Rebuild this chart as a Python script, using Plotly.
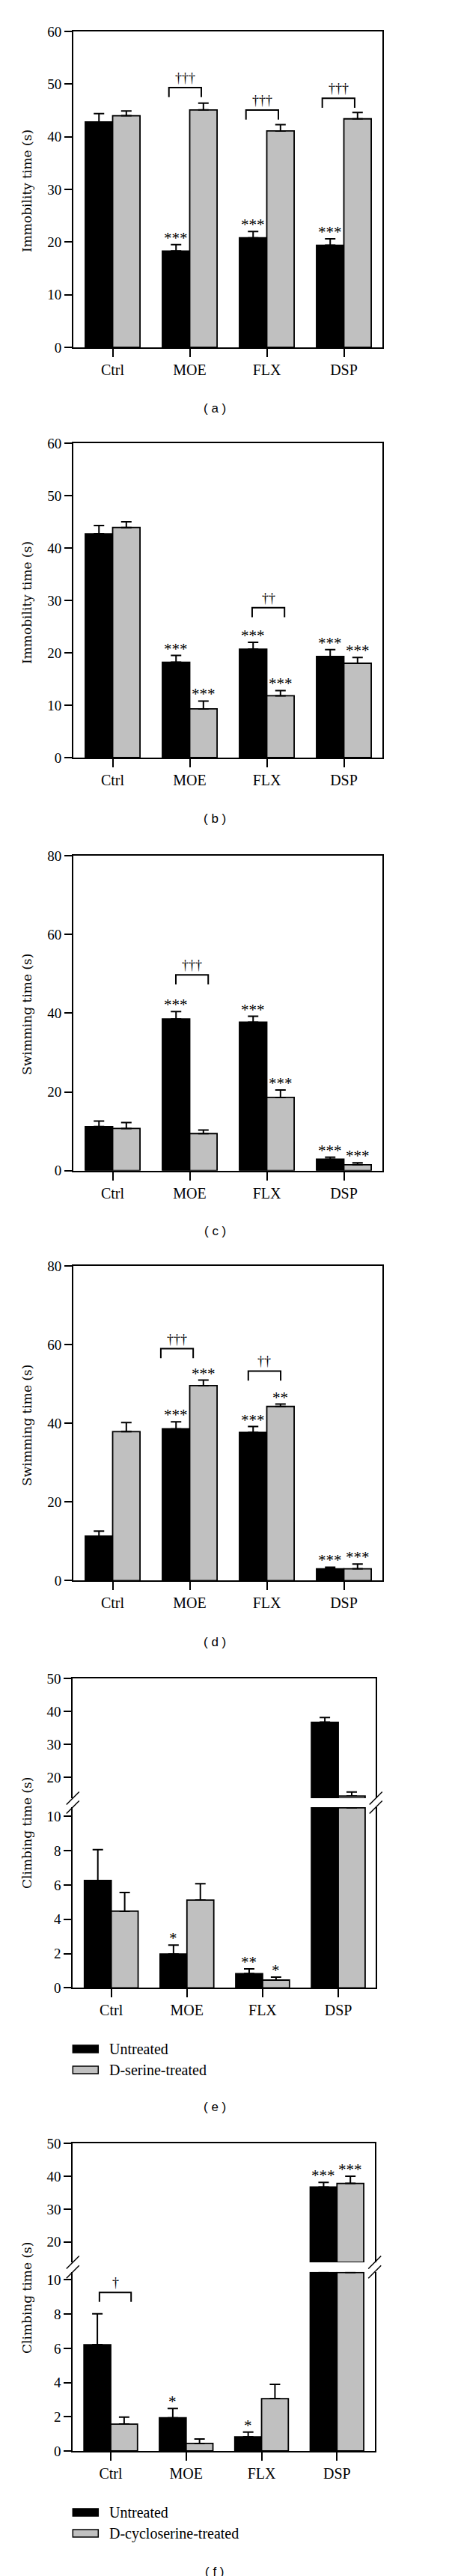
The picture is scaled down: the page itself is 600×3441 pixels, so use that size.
import plotly.graph_objects as go

W, H = 600, 3441

categories = ["Ctrl", "MOE", "FLX", "DSP"]

# (a) Immobility time, D-serine
a_untreated = [42.8, 18.3, 20.8, 19.4]
a_untreated_sem = [1.6, 1.2, 1.2, 1.2]
a_treated = [44.0, 45.1, 41.1, 43.4]
a_treated_sem = [0.9, 1.3, 1.2, 1.2]
a_untreated_sig = ["", "***", "***", "***"]
a_treated_sig = ["", "", "", ""]

# (b) Immobility time, D-cycloserine
b_untreated = [42.7, 18.2, 20.7, 19.3]
b_untreated_sem = [1.6, 1.3, 1.3, 1.3]
b_treated = [43.9, 9.3, 11.8, 18.0]
b_treated_sem = [1.1, 1.5, 1.0, 1.1]
b_untreated_sig = ["", "***", "***", "***"]
b_treated_sig = ["", "***", "***", "***"]

# (c) Swimming time, D-serine
c_untreated = [11.2, 38.5, 37.7, 2.9]
c_untreated_sem = [1.4, 1.9, 1.5, 0.5]
c_treated = [10.7, 9.4, 18.6, 1.5]
c_treated_sem = [1.5, 0.9, 1.9, 0.5]
c_untreated_sig = ["", "***", "***", "***"]
c_treated_sig = ["", "", "***", "***"]

# (d) Swimming time, D-cycloserine
d_untreated = [11.3, 38.6, 37.7, 3.0]
d_untreated_sem = [1.3, 1.8, 1.5, 0.4]
d_treated = [37.9, 49.6, 44.3, 3.0]
d_treated_sem = [2.3, 1.4, 0.6, 1.2]
d_untreated_sig = ["", "***", "***", "***"]
d_treated_sig = ["", "***", "**", "***"]

# (e) Climbing time, D-serine
e_untreated = [6.26, 1.97, 0.83, 36.7]
e_untreated_sem = [1.8, 0.52, 0.28, 1.4]
e_treated = [4.47, 5.12, 0.45, 14.3]
e_treated_sem = [1.09, 0.95, 0.18, 1.2]
e_untreated_sig = ["", "*", "**", ""]
e_treated_sig = ["", "", "*", ""]

# (f) Climbing time, D-cycloserine
f_untreated = [6.21, 1.94, 0.83, 36.7]
f_untreated_sem = [1.81, 0.54, 0.28, 1.4]
f_treated = [1.57, 0.44, 3.06, 37.8]
f_treated_sem = [0.41, 0.26, 0.83, 2.2]
f_untreated_sig = ["", "*", "*", "***"]
f_treated_sig = ["", "", "", "***"]

legend_names = ["Untreated", "D-serine-treated", "D-cycloserine-treated"]

SERIF = "Liberation Serif"
TITLE_FONT = "DejaVu Serif"
SANS = "Liberation Sans"
BLACK = "#000000"
GRAY = "#c0c0c0"
OFF = 0.1775
BW = 0.355

fig = go.Figure()
layout = dict(width=W, height=H, margin=dict(l=0, r=0, t=0, b=0),
              paper_bgcolor="white", plot_bgcolor="rgba(0,0,0,0)",
              showlegend=False, barmode="overlay")
annotations, shapes = [], []


def py(p):
    return 1 - p / H


def pxx(p):
    return p / W


def xaxis_cfg(dom, rng, labels=True, side="bottom", mirror=False, ticks=True):
    return dict(domain=[pxx(dom[0]), pxx(dom[1])], range=rng, showgrid=False, zeroline=False,
                showline=True, linecolor=BLACK, linewidth=2, mirror=mirror, side=side,
                tickmode="array", tickvals=[0, 1, 2, 3], ticktext=categories,
                ticks="outside" if ticks else "", ticklen=11, tickwidth=2, tickcolor=BLACK,
                showticklabels=labels, tickfont=dict(family=SERIF, size=20, color=BLACK),
                fixedrange=True, automargin=False)


def yaxis_cfg(dom, rng, tickvals):
    return dict(domain=[py(dom[1]), py(dom[0])], range=rng, showgrid=False, zeroline=False,
                showline=True, linecolor=BLACK, linewidth=2, mirror=True,
                tickmode="array", tickvals=tickvals, ticktext=[str(t) for t in tickvals],
                ticks="outside", ticklen=10, tickwidth=2, tickcolor=BLACK,
                tickfont=dict(family=SERIF, size=19, color=BLACK),
                fixedrange=True, automargin=False)


def add_bars(n, vals, sems, color, off, base=None):
    xs = "x" if n == 1 else f"x{n}"
    ys = "y" if n == 1 else f"y{n}"
    fig.add_trace(go.Bar(
        x=[i + off for i in range(4)], y=vals, width=BW, base=base,
        marker=dict(color=color, line=dict(color=BLACK, width=1.8)),
        error_y=dict(type="data", array=sems, arrayminus=[0] * 4, symmetric=False,
                     color=BLACK, thickness=2, width=7),
        xaxis=xs, yaxis=ys, hoverinfo="skip"))


def ref(n):
    return ("x" if n == 1 else f"x{n}"), ("y" if n == 1 else f"y{n}")


def add_sig(n, i, off, y, text):
    if not text:
        return
    xr, yr = ref(n)
    annotations.append(dict(x=i + off, y=y, xref=xr, yref=yr, text=text, showarrow=False,
                            xanchor="center", yanchor="middle", yshift=9,
                            font=dict(family=SERIF, size=21, color=BLACK)))


def add_bracket(n, i, x0, x1, ytop, ppu, text):
    xr, yr = ref(n)
    leg = 12.7 / ppu
    shapes.append(dict(type="path", xref=xr, yref=yr,
                       path=f"M {i + x0},{ytop - leg} L {i + x0},{ytop} L {i + x1},{ytop} L {i + x1},{ytop - leg}",
                       line=dict(color=BLACK, width=2)))
    annotations.append(dict(x=i + (x0 + x1) / 2, y=ytop, xref=xr, yref=yr, text=text,
                            showarrow=False, xanchor="center", yanchor="middle", yshift=13,
                            font=dict(family=SERIF, size=18, color=BLACK)))


def ytitle(text, ycenter):
    annotations.append(dict(x=pxx(28), y=py(ycenter), xref="paper", yref="paper", text=text,
                            showarrow=False, textangle=-90, xanchor="center", yanchor="middle",
                            font=dict(family=TITLE_FONT, size=17, color=BLACK)))


def plabel(text, ycenter):
    annotations.append(dict(x=pxx(279), y=py(ycenter), xref="paper", yref="paper", text=text,
                            showarrow=False, xanchor="center", yanchor="middle",
                            font=dict(family=SANS, size=17, color=BLACK)))


# ---------- simple panels (a)-(d) ----------
simple = [
    dict(n=1, top=34, bot=456, yr=[0, 60], tv=[0, 10, 20, 30, 40, 50, 60], title="Immobility time (s)",
         tc=247, lab="( a )", ly=537,
         d=(a_untreated, a_untreated_sem, a_treated, a_treated_sem, a_untreated_sig, a_treated_sig),
         br=[(1, -0.27, 0.15, 49.33, "†††"), (2, -0.27, 0.15, 45.06, "†††"), (3, -0.28, 0.14, 47.3, "†††")]),
    dict(n=2, top=584, bot=1004, yr=[0, 60], tv=[0, 10, 20, 30, 40, 50, 60], title="Immobility time (s)",
         tc=797, lab="( b )", ly=1085,
         d=(b_untreated, b_untreated_sem, b_treated, b_treated_sem, b_untreated_sig, b_treated_sig),
         br=[(2, -0.19, 0.23, 28.6, "††")]),
    dict(n=3, top=1135, bot=1555.7, yr=[0, 80], tv=[0, 20, 40, 60, 80], title="Swimming time (s)",
         tc=1347, lab="( c )", ly=1636.7,
         d=(c_untreated, c_untreated_sem, c_treated, c_treated_sem, c_untreated_sig, c_treated_sig),
         br=[(1, -0.18, 0.24, 49.7, "†††")]),
    dict(n=4, top=1683.3, bot=2103.3, yr=[0, 80], tv=[0, 20, 40, 60, 80], title="Swimming time (s)",
         tc=1896, lab="( d )", ly=2185,
         d=(d_untreated, d_untreated_sem, d_treated, d_treated_sem, d_untreated_sig, d_treated_sig),
         br=[(1, -0.375, 0.045, 59.0, "†††"), (2, -0.24, 0.18, 53.3, "††")]),
]

for p in simple:
    n = p["n"]
    key = "" if n == 1 else str(n)
    layout["xaxis" + key] = xaxis_cfg((90, 502.5), [-0.51, 3.495], mirror=True)
    layout["xaxis" + key]["anchor"] = "y" + key
    layout["yaxis" + key] = yaxis_cfg((p["top"], p["bot"]), p["yr"], p["tv"])
    layout["yaxis" + key]["anchor"] = "x" + key
    u, us, t, ts, usig, tsig = p["d"]
    add_bars(n, u, us, BLACK, -OFF)
    add_bars(n, t, ts, GRAY, OFF)
    for i in range(4):
        add_sig(n, i, -OFF, u[i] + us[i], usig[i])
        add_sig(n, i, OFF, t[i] + ts[i], tsig[i])
    ppu = (p["bot"] - p["top"]) / (p["yr"][1] - p["yr"][0])
    for (i, x0, x1, yt, txt) in p["br"]:
        add_bracket(n, i, x0, x1, yt, ppu, txt)
    ytitle(p["title"], p["tc"])
    plabel(p["lab"], p["ly"])

# ---------- broken-axis panels (e), (f) ----------
broken = [
    dict(nl=5, nu=6, xd=(89.3, 494.3), xr=[-0.508, 3.497],
         ut=2234, ub=2394, ur=[13.64, 50], lt=2406, lb=2647.3, lr=[0, 10.54],
         title="Climbing time (s)", tc=2441, lab="( e )", ly=2806,
         d=(e_untreated, e_untreated_sem, e_treated, e_treated_sem, e_untreated_sig, e_treated_sig),
         br=[], leg=(legend_names[0], legend_names[1]), legy=2729),
    dict(nl=7, nu=8, xd=(89.3, 492.7), xr=[-0.503, 3.5],
         ut=2855, ub=3014, ur=[13.8, 50], lt=3026.7, lb=3266, lr=[0, 10.47],
         title="Climbing time (s)", tc=3062, lab="( f )", ly=3427,
         d=(f_untreated, f_untreated_sem, f_treated, f_treated_sem, f_untreated_sig, f_treated_sig),
         br=[(0, -0.15, 0.27, 9.27, "†")], leg=(legend_names[0], legend_names[2]), legy=3348),
]

for p in broken:
    nl, nu = p["nl"], p["nu"]
    kl, ku = str(nl), str(nu)
    layout["xaxis" + kl] = xaxis_cfg(p["xd"], p["xr"])
    layout["xaxis" + kl]["anchor"] = "y" + kl
    layout["yaxis" + kl] = yaxis_cfg((p["lt"], p["lb"]), p["lr"], [0, 2, 4, 6, 8, 10])
    layout["yaxis" + kl]["anchor"] = "x" + kl
    layout["xaxis" + ku] = xaxis_cfg(p["xd"], p["xr"], labels=False, side="top", ticks=False)
    layout["xaxis" + ku]["anchor"] = "y" + ku
    layout["yaxis" + ku] = yaxis_cfg((p["ut"], p["ub"]), p["ur"], [20, 30, 40, 50])
    layout["yaxis" + ku]["anchor"] = "x" + ku

    u, us, t, ts, usig, tsig = p["d"]
    cap = p["lr"][1] - 0.04
    lo = p["ur"][0]
    for vals, sems, color, off, sig in ((u, us, BLACK, -OFF, usig), (t, ts, GRAY, OFF, tsig)):
        low_vals = [v if v <= cap else cap for v in vals]
        low_sems = [s if v <= cap else None for v, s in zip(vals, sems)]
        add_bars(nl, low_vals, low_sems, color, off)
        up_vals = [v - lo if v > lo else None for v in vals]
        up_sems = [s if v > lo else None for v, s in zip(vals, sems)]
        add_bars(nu, up_vals, up_sems, color, off, base=lo)
        for i in range(4):
            n = nu if vals[i] > cap else nl
            add_sig(n, i, off, vals[i] + sems[i], sig[i])

    ppu_l = (p["lb"] - p["lt"]) / (p["lr"][1] - p["lr"][0])
    for (i, x0, x1, yt, txt) in p["br"]:
        add_bracket(nl, i, x0, x1, yt, ppu_l, txt)

    # axis-break slashes
    for xs in p["xd"]:
        for ys in (p["ub"], p["lt"]):
            shapes.append(dict(type="line", xref="paper", yref="paper",
                               x0=pxx(xs - 8.5), y0=py(ys + 8.5), x1=pxx(xs + 8.5), y1=py(ys - 8.5),
                               line=dict(color=BLACK, width=1.5)))

    ytitle(p["title"], p["tc"])
    plabel(p["lab"], p["ly"])

    # legend
    lx0, lx1 = p["xd"][0], p["xd"][0] + 34
    for k, (name, color) in enumerate(zip(p["leg"], (BLACK, GRAY))):
        yc = p["legy"] + 28 * k
        shapes.append(dict(type="rect", xref="paper", yref="paper",
                           x0=pxx(lx0), x1=pxx(lx1), y0=py(yc + 5), y1=py(yc - 5),
                           fillcolor=color, line=dict(color=BLACK, width=1.5)))
        annotations.append(dict(x=pxx(lx0 + 47), y=py(yc), xref="paper", yref="paper", text=name,
                                showarrow=False, xanchor="left", yanchor="middle",
                                font=dict(family=SERIF, size=20, color=BLACK)))

layout["annotations"] = annotations
layout["shapes"] = shapes
fig.update_layout(**layout)
fig.write_html("out.html")
